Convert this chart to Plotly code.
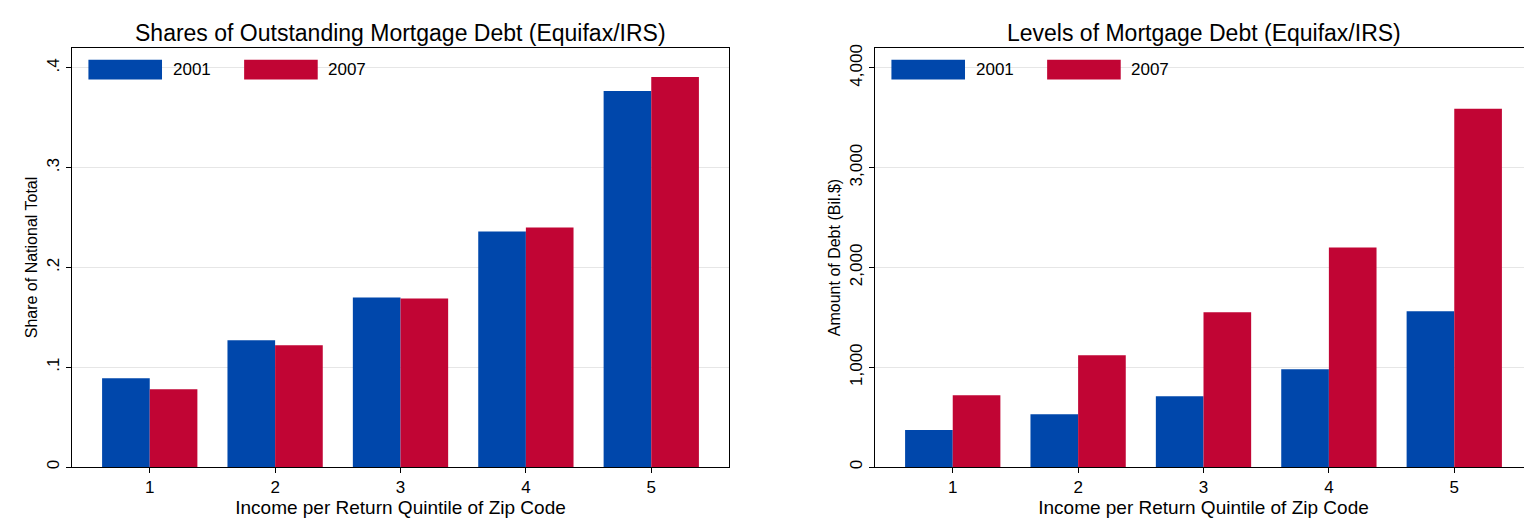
import plotly.graph_objects as go
from plotly.subplots import make_subplots

quintiles = [1, 2, 3, 4, 5]
share_2001 = [0.089, 0.127, 0.170, 0.236, 0.377]
share_2007 = [0.078, 0.122, 0.169, 0.240, 0.391]
level_2001 = [370, 530, 710, 980, 1560]
level_2007 = [720, 1120, 1550, 2200, 3590]
years = ["2001", "2007"]

blue = "#0047AB"
red = "#C10534"

fig = make_subplots(rows=1, cols=2, horizontal_spacing=0.1,
                    subplot_titles=["Shares of Outstanding Mortgage Debt (Equifax/IRS)",
                                    "Levels of Mortgage Debt (Equifax/IRS)"])
bar = dict(marker_line_width=0, showlegend=False)
fig.add_bar(x=quintiles, y=share_2001, marker_color=blue, name="2001", row=1, col=1, **bar)
fig.add_bar(x=quintiles, y=share_2007, marker_color=red, name="2007", row=1, col=1, **bar)
fig.add_bar(x=quintiles, y=level_2001, marker_color=blue, name="2001", row=1, col=2, **bar)
fig.add_bar(x=quintiles, y=level_2007, marker_color=red, name="2007", row=1, col=2, **bar)

fig.update_layout(
    width=1532, height=523, template="plotly_white",
    font=dict(family="Liberation Sans, Arial", size=17, color="black"),
    margin=dict(l=64, r=8, t=40, b=64),
    bargap=0.24, bargroupgap=0,
    plot_bgcolor="white",
)
for a in fig.layout.annotations:
    a.font = dict(size=23, color="black")
    a.y = 1.0
    a.yanchor = "bottom"

axis_common = dict(showline=True, linecolor="black", mirror=True, ticks="outside",
                   tickcolor="black", zeroline=False)
fig.update_xaxes(range=[0.38, 5.62], tickvals=quintiles, showgrid=False,
                 title_text="Income per Return Quintile of Zip Code",
                 title_font=dict(size=19), title_standoff=4, **axis_common)
fig.update_yaxes(range=[0, 0.42], tickvals=[0, 0.1, 0.2, 0.3, 0.4],
                 ticktext=["0", ".1", ".2", ".3", ".4"], tickangle=-90,
                 gridcolor="#e6e6e6", title_text="Share of National Total",
                 title_font=dict(size=16), title_standoff=2, row=1, col=1, **axis_common)
fig.update_yaxes(range=[0, 4200], tickvals=[0, 1000, 2000, 3000, 4000],
                 ticktext=["0", "1,000", "2,000", "3,000", "4,000"], tickangle=-90,
                 gridcolor="#e6e6e6", title_text="Amount of Debt (Bil.$)",
                 title_font=dict(size=16), title_standoff=2, row=1, col=2, **axis_common)

# legends drawn as boxes inside each panel
for xref in ("x domain", "x2 domain"):
    for i, (yr, col) in enumerate(zip(years, [blue, red])):
        x0 = 0.025 + i * 0.237
        fig.add_shape(type="rect", xref=xref, yref="paper", x0=x0, x1=x0 + 0.112,
                      y0=0.925, y1=0.972, fillcolor=col, line_width=0)
        fig.add_annotation(xref=xref, yref="paper", x=x0 + 0.125, y=0.9485, text=yr,
                           showarrow=False, xanchor="left", yanchor="middle",
                           font=dict(size=17))

fig.write_html("out.html")
